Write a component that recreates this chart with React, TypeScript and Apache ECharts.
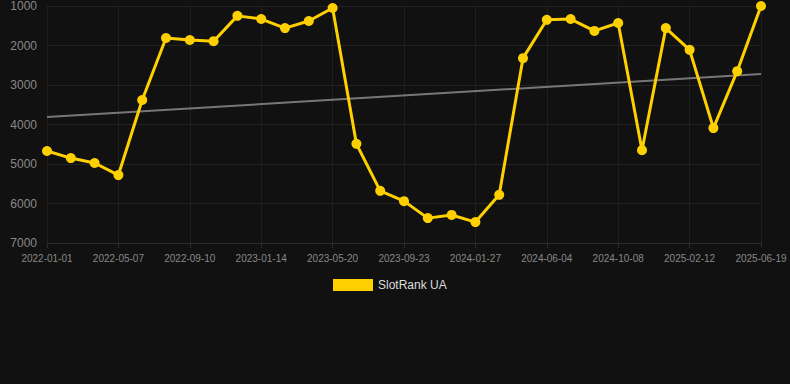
import React, { useEffect, useRef } from "react";
import * as echarts from "echarts";

const dates = [
  "2022-01-01", "2022-02-12", "2022-03-26", "2022-05-07", "2022-06-18", "2022-07-30",
  "2022-09-10", "2022-10-22", "2022-12-03", "2023-01-14", "2023-02-25", "2023-04-08",
  "2023-05-20", "2023-07-01", "2023-08-12", "2023-09-23", "2023-11-04", "2023-12-16",
  "2024-01-27", "2024-03-09", "2024-04-22", "2024-06-04", "2024-07-16", "2024-08-27",
  "2024-10-08", "2024-11-19", "2024-12-31", "2025-02-12", "2025-03-27", "2025-05-08",
  "2025-06-19",
];

const ranks = [
  4670, 4850, 4975, 5280, 3380, 1810,
  1860, 1890, 1250, 1330, 1560, 1380,
  1050, 4490, 5680, 5940, 6370, 6290,
  6470, 5780, 2320, 1350, 1330, 1630,
  1430, 4650, 1560, 2110, 4090, 2650,
  1000,
];

const trendStart = 3810;
const trendEnd = 2720;

const yTicks = { min: 1000, max: 7000, interval: 1000 };

export default function App() {
  const ref = useRef<HTMLDivElement>(null);
  useEffect(() => {
    if (!ref.current) return;
    const chart = echarts.init(ref.current, null, { renderer: "svg" });
    const trend = dates.map((_, i) =>
      i === 0 ? trendStart : i === dates.length - 1 ? trendEnd : null
    );
    chart.setOption({
      animation: false,
      backgroundColor: "#111111",
      grid: { left: 47, right: 29, top: 6, bottom: 141 },
      legend: {
        data: ["SlotRank UA"],
        top: 274,
        left: 328,
        itemWidth: 40,
        itemHeight: 12,
        itemGap: 6,
        icon: "rect",
        textStyle: { color: "#dddddd", fontSize: 12, fontFamily: "Arial, Liberation Sans, sans-serif" },
      },
      xAxis: {
        type: "category",
        data: dates,
        boundaryGap: false,
        axisLine: { show: true, lineStyle: { color: "#2a2a2a" } },
        axisTick: { show: true, interval: 2, lineStyle: { color: "#2a2a2a" } },
        axisLabel: {
          interval: 2,
          color: "#888888",
          fontSize: 10,
          margin: 10,
          fontFamily: "Arial, Liberation Sans, sans-serif",
        },
        splitLine: { show: true, interval: 2, lineStyle: { color: "#1f1f1f" } },
      },
      yAxis: {
        type: "value",
        inverse: true,
        min: yTicks.min,
        max: yTicks.max,
        interval: yTicks.interval,
        axisLine: { show: false },
        axisTick: { show: false },
        axisLabel: {
          color: "#888888",
          fontSize: 12,
          margin: 10,
          formatter: (v: number) => String(v),
          fontFamily: "Arial, Liberation Sans, sans-serif",
        },
        splitLine: { show: true, lineStyle: { color: "#222222" } },
      },
      series: [
        {
          name: "Trend",
          type: "line",
          data: trend,
          connectNulls: true,
          showSymbol: false,
          symbol: "none",
          lineStyle: { color: "#777777", width: 2 },
          z: 1,
          silent: true,
        },
        {
          name: "SlotRank UA",
          type: "line",
          data: ranks,
          symbol: "circle",
          symbolSize: 10,
          itemStyle: { color: "#ffd000" },
          lineStyle: { color: "#ffd000", width: 3 },
          z: 2,
        },
      ],
    });
    return () => chart.dispose();
  }, []);
  return (
    <div
      ref={ref}
      style={{ position: "fixed", left: 0, top: 0, width: 790, height: 384 }}
    />
  );
}
